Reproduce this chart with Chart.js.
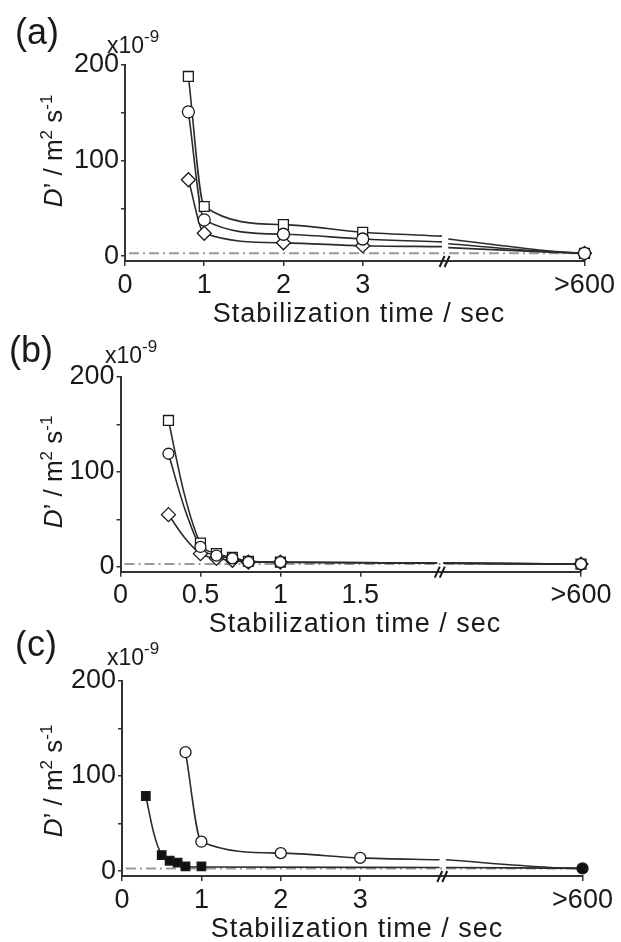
<!DOCTYPE html>
<html>
<head>
<meta charset="utf-8">
<script src="https://cdn.jsdelivr.net/npm/chart.js@4"></script>
<style>
  html, body { margin: 0; padding: 0; background: #fff; }
  body { width: 621px; height: 942px; position: relative; overflow: hidden; }
  canvas { position: absolute; left: 0; }
</style>
</head>
<body>
<canvas id="chartA" width="621" height="330" style="top:0px"></canvas>
<canvas id="chartB" width="621" height="320" style="top:320px"></canvas>
<canvas id="chartC" width="621" height="312" style="top:630px"></canvas>
<script>
// x position used for the ">600" point (after the axis break)
const BIG = 5.8;
const BIG_B = 2.88;

// y axis (all panels), units of 1e-9 m2/s
const yTicks = [0, 50, 100, 150, 200];
const yTickLabels = ['0', '', '100', '', '200'];
const refLevel = 3; // dash-dot line

// ---- panel (a) ----
const aX = [0.8, 1, 2, 3, BIG];
const aSquare = [188, 52, 33, 25, 3];
const aCircle = [151, 38, 23, 18, 3];
const aDiamond = [80, 24, 14, 11, 3];
const aFitX = [0.8, 1, 2, 3, 4.0, 4.04, 4.08, 5.3, BIG];
const aSquareFit = [188, 52, 33, 25, 21, null, 18, 6, 3];
const aCircleFit = [151, 38, 23, 18, 15, null, 13, 5, 3];
const aDiamondFit = [80, 24, 14, 11, 10, null, 9, 4.5, 3];
const aTicks = [0, 1, 2, 3, BIG];
const aTickLabels = ['0', '1', '2', '3', '>600'];

// ---- panel (b) ----
const bX = [0.3, 0.5, 0.6, 0.7, 0.8, 1, BIG_B];
const bSquare = [154, 25, 14, 10, 6, 5, 3];
const bCircle = [119, 21, 12, 9, 5, 5, 3];
const bDiamond = [55, 14, 9, 7, 5, 5, 3];
const bFitX = [0.3, 0.4, 0.5, 0.6, 0.7, 0.8, 1, 1.98, 2.0, 2.02, BIG_B];
const bSquareFit = [154, 76, 25, 14, 10, 6, 5, 4, null, 4, 3];
const bCircleFit = [119, 62, 21, 12, 9, 5, 5, 4, null, 4, 3];
const bDiamondFit = [55, 31, 14, 9, 7, 5, 5, 4, null, 4, 3];
const bTicks = [0, 0.5, 1, 1.5, BIG_B];
const bTickLabels = ['0', '0.5', '1', '1.5', '>600'];

// ---- panel (c) ----
const cSqX = [0.3, 0.5, 0.6, 0.7, 0.8, 1];
const cSquare = [79, 17, 11, 9, 5, 5];
const cCirX = [0.8, 1, 2, 3];
const cCircle = [125, 31, 19, 14];
const cBigX = [BIG];
const cBig = [3];
const cSqFitX = [0.3, 0.4, 0.5, 0.6, 0.7, 0.8, 1, 4.0, 4.04, 4.08, BIG];
const cSquareFit = [79, 40, 17, 11, 9, 5, 4.5, 4, null, 4, 3];
const cCirFitX = [0.8, 1, 2, 3, 4.0, 4.04, 4.08, 5.4, BIG];
const cCircleFit = [125, 31, 19, 14, 12, null, 12, 4, 3];
const cTicks = [0, 1, 2, 3, BIG];
const cTickLabels = ['0', '1', '2', '3', '>600'];

const FONT = "'Liberation Sans', Arial, sans-serif";
Chart.defaults.font.family = FONT;
Chart.defaults.color = '#1a1a1a';

const pts = (xs, ys) => xs.map((x, i) => ({ x: x, y: ys[i] }));

function marks(xs, ys, style, r, fill) {
  return {
    data: pts(xs, ys), showLine: false, pointStyle: style, pointRadius: r,
    pointBackgroundColor: fill, pointBorderColor: '#1a1a1a', pointBorderWidth: 1.3,
    order: 0, clip: false
  };
}
function fit(xs, ys) {
  return {
    data: pts(xs, ys), borderColor: '#2b2b2b', borderWidth: 1.6, pointRadius: 0,
    cubicInterpolationMode: 'monotone', spanGaps: false, order: 1, clip: false
  };
}

// rich text helper: segments drawn left to right from (x, y) baseline
function drawRich(ctx, segs, x, y) {
  segs.forEach(s => {
    ctx.font = (s.italic ? 'italic ' : '') + s.size + 'px ' + FONT;
    ctx.fillText(s.t, x, y - (s.rise || 0));
    x += ctx.measureText(s.t).width;
  });
}
function richWidth(ctx, segs) {
  let w = 0;
  segs.forEach(s => { ctx.font = (s.italic ? 'italic ' : '') + s.size + 'px ' + FONT; w += ctx.measureText(s.t).width; });
  return w;
}

const yTitle = [
  { t: 'D', size: 26, italic: true },
  { t: '\u2019 / m', size: 26 },
  { t: '2', size: 17, rise: 10 },
  { t: ' s', size: 26 },
  { t: '-1', size: 17, rise: 10 }
];
const expo = [
  { t: 'x10', size: 23 },
  { t: '-9', size: 17, rise: 11 }
];

const decor = {
  id: 'decor',
  beforeDatasetsDraw(chart, args, o) {
    const { ctx, chartArea: a, scales: { y } } = chart;
    const py = y.getPixelForValue(refLevel);
    ctx.save();
    ctx.strokeStyle = '#9a9a9a';
    ctx.lineWidth = 2;
    ctx.setLineDash([10, 4, 2, 4]);
    ctx.beginPath();
    ctx.moveTo(a.left + 4, py);
    ctx.lineTo(a.right, py);
    ctx.stroke();
    ctx.restore();
  },
  afterDraw(chart, args, o) {
    const { ctx, chartArea: a, scales: { x } } = chart;
    ctx.save();
    // axis break mark
    const bx = x.getPixelForValue(o.breakAt);
    ctx.strokeStyle = '#1a1a1a';
    ctx.lineWidth = 2;
    [-3, 2].forEach(d => {
      ctx.beginPath();
      ctx.moveTo(bx + d - 2.5, a.bottom + 6);
      ctx.lineTo(bx + d + 2.5, a.bottom - 5);
      ctx.stroke();
    });
    ctx.fillStyle = '#1a1a1a';
    ctx.textBaseline = 'alphabetic';
    // panel letter
    ctx.font = '36px ' + FONT;
    ctx.textAlign = 'left';
    ctx.fillText(o.letter, o.letterX, o.letterY);
    // exponent
    drawRich(ctx, expo, o.expX, o.expY);
    // x title
    ctx.font = '27px ' + FONT;
    ctx.textAlign = 'center';
    ctx.letterSpacing = '1px';
    ctx.fillText('Stabilization time / sec', o.xtX, o.xtY);
    ctx.letterSpacing = '0px';
    // y title, rotated
    ctx.textAlign = 'left';
    ctx.translate(o.ytX, o.ytY);
    ctx.rotate(-Math.PI / 2);
    const w = richWidth(ctx, yTitle);
    drawRich(ctx, yTitle, -w / 2, 9);
    ctx.restore();
  }
};

function makeChart(id, L, cfg) {
  return new Chart(document.getElementById(id), {
    type: 'line',
    data: { datasets: cfg.datasets },
    options: {
      responsive: false,
      animation: false,
      events: [],
      layout: { padding: { top: L.top, right: L.right, left: 0, bottom: 0 } },
      plugins: { legend: { display: false }, tooltip: { enabled: false }, decor: cfg.decor },
      scales: {
        x: {
          type: 'linear', min: 0, max: cfg.xMax,
          afterFit: s => { s.height = L.xh; },
          afterBuildTicks: s => { s.ticks = cfg.xTicks.map(v => ({ value: v })); },
          ticks: {
            autoSkip: false, maxRotation: 0, padding: 3, font: { size: 27 }, color: '#1a1a1a',
            callback: (v, i) => cfg.xLabels[i]
          },
          grid: { drawOnChartArea: false, tickLength: 5, color: '#333', lineWidth: 1.5 },
          border: { color: '#333', width: 2 }
        },
        y: {
          min: -5, max: 200,
          afterFit: s => { s.width = L.left; },
          afterBuildTicks: s => { s.ticks = yTicks.map(v => ({ value: v })); },
          ticks: {
            padding: 2, font: { size: 27 }, color: '#1a1a1a',
            callback: (v, i) => yTickLabels[i]
          },
          grid: { drawOnChartArea: false, tickLength: 4, color: '#333', lineWidth: 1.5 },
          border: { color: '#333', width: 2 }
        }
      }
    },
    plugins: [decor]
  });
}

// (a)  -- circles listed first so they sit on top
makeChart('chartA', { top: 65, right: 36.5, left: 125, xh: 69 }, {
  xMax: BIG, xTicks: aTicks, xLabels: aTickLabels,
  decor: { breakAt: 4.04, letter: '(a)', letterX: 15, letterY: 44, expX: 107, expY: 53, xtX: 359, xtY: 322, ytX: 53, ytY: 151 },
  datasets: [
    marks(aX, aCircle, 'circle', 6, '#fff'),
    marks(aX, aSquare, 'rect', 7, '#fff'),
    marks(aX, aDiamond, 'rectRot', 7, '#fff'),
    fit(aFitX, aSquareFit),
    fit(aFitX, aCircleFit),
    fit(aFitX, aDiamondFit)
  ]
});

// (b)
makeChart('chartB', { top: 56.7, right: 40, left: 120.5, xh: 68.3 }, {
  xMax: BIG_B, xTicks: bTicks, xLabels: bTickLabels,
  decor: { breakAt: 2.0, letter: '(b)', letterX: 9, letterY: 42, expX: 105, expY: 43, xtX: 355, xtY: 312, ytX: 53, ytY: 152 },
  datasets: [
    marks(bX, bCircle, 'circle', 5.5, '#fff'),
    marks(bX, bSquare, 'rect', 7, '#fff'),
    marks(bX, bDiamond, 'rectRot', 7, '#fff'),
    fit(bFitX, bSquareFit),
    fit(bFitX, bCircleFit),
    fit(bFitX, bDiamondFit)
  ]
});

// (c)
makeChart('chartC', { top: 50.8, right: 38.5, left: 122, xh: 66 }, {
  xMax: BIG, xTicks: cTicks, xLabels: cTickLabels,
  decor: { breakAt: 4.04, letter: '(c)', letterX: 15, letterY: 26, expX: 107, expY: 35, xtX: 357, xtY: 306.5, ytX: 53, ytY: 151 },
  datasets: [
    marks(cBigX, cBig, 'circle', 5.5, '#111'),
    marks(cSqX, cSquare, 'rect', 6, '#111'),
    marks(cCirX, cCircle, 'circle', 5.5, '#fff'),
    fit(cSqFitX, cSquareFit),
    fit(cCirFitX, cCircleFit)
  ]
});
</script>
</body>
</html>
